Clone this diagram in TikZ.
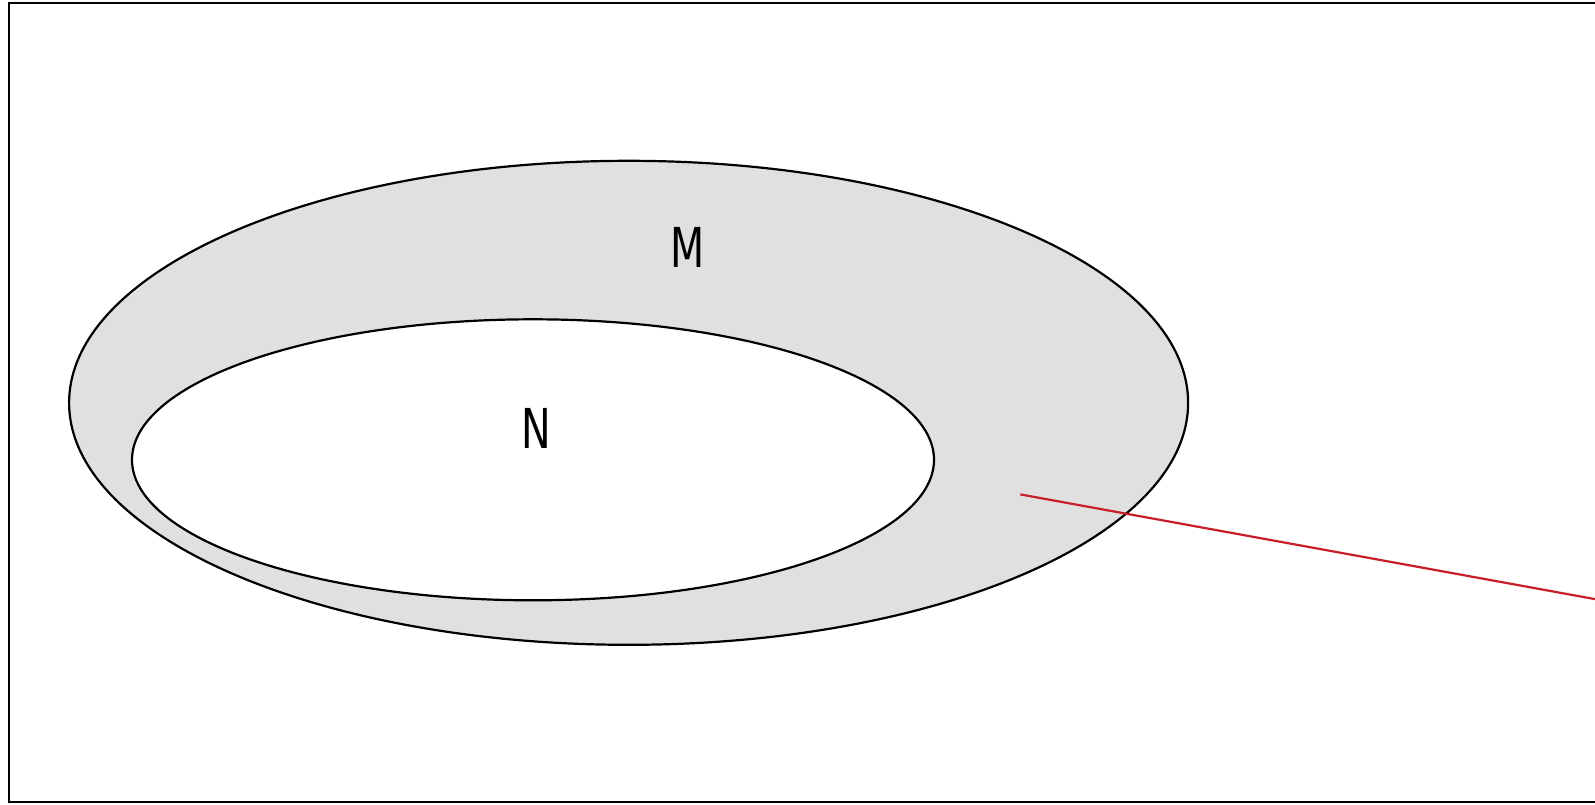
\documentclass[tikz,border=0pt]{standalone}
\usepackage{fontspec}
\setmainfont{DejaVu Sans}
\newfontfamily\setfont[FakeStretch=0.72]{DejaVu Sans}
\usetikzlibrary{shapes.geometric}
\definecolor{setgray}{HTML}{E0E0E0}
\definecolor{linkred}{HTML}{C81E2A}
\begin{document}
\begin{tikzpicture}[
  x=0.5pt, y=-0.5pt,
  setline/.style={draw=black, line width=1.1pt},
  outerset/.style={setline, ellipse, fill=setgray, inner sep=0pt,
                   minimum width=559.5pt, minimum height=242pt},
  innerset/.style={setline, ellipse, fill=white, inner sep=0pt,
                   minimum width=401pt, minimum height=140.5pt},
  lbl/.style={font=\setfont\fontsize{27.5}{30}\selectfont, inner sep=0pt},
  link/.style={draw=linkred, line width=1.1pt},
]
\useasboundingbox (0,0) rectangle (1595,804);
\clip (0,0) rectangle (1595,804);
% Frame
\draw[setline] (9,3) rectangle (1620,802);
% Sets
\node[outerset] (setM) at (628.6,402.8) {};
\node[innerset] (setN) at (533,459.8) {};
% Labels
\node[lbl] (labM) at (688,247.2) {M};
\node[lbl] (labN) at (536,428.3) {N};
% Pointer line
\coordinate (linkA) at (1020.3,494.4);
\coordinate (linkB) at (1640,607.3);
\draw[link] (linkA) -- (linkB);
\end{tikzpicture}
\end{document}
